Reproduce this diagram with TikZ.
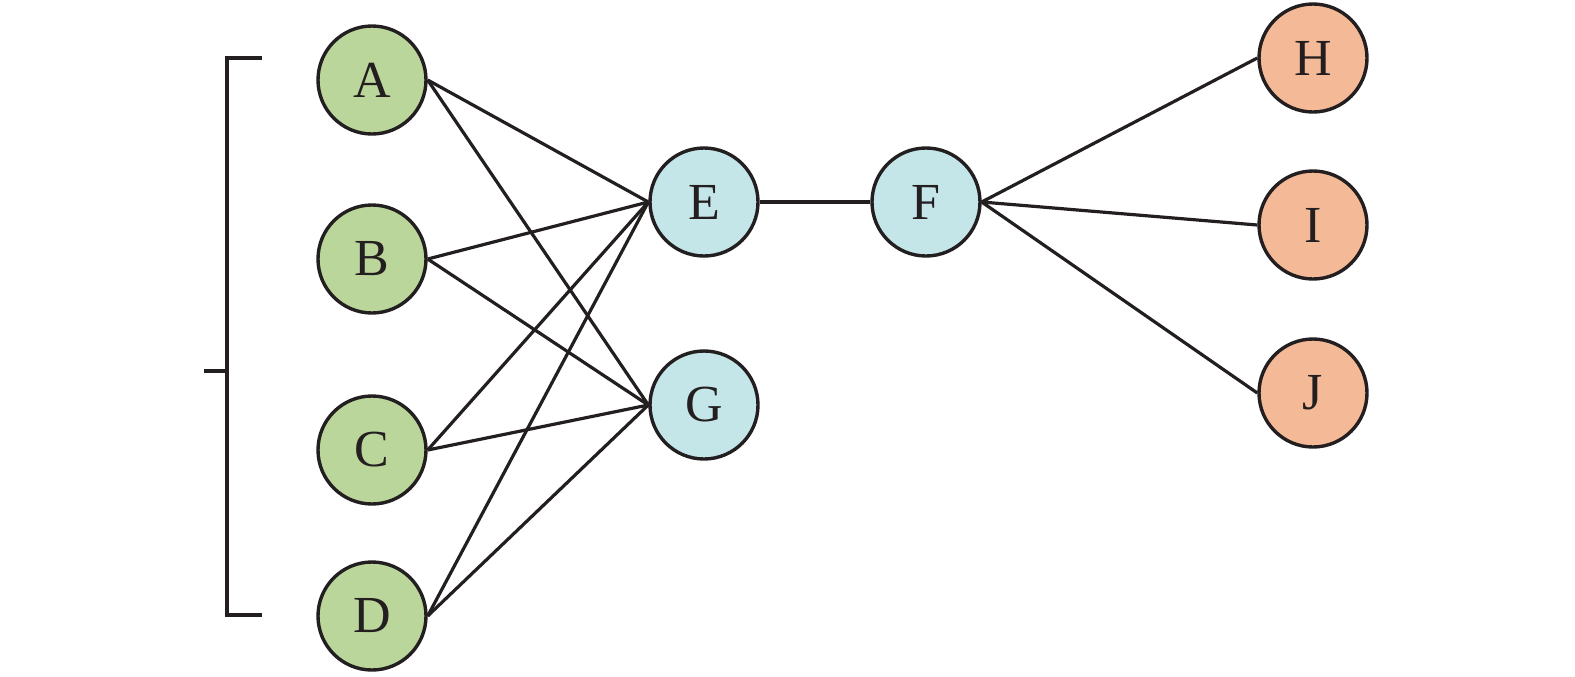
\documentclass[tikz,border=0pt]{standalone}
\usepackage{fontspec}
\setmainfont{Liberation Serif}
\definecolor{lncol}{HTML}{231F20}
\definecolor{grn}{HTML}{BBD69B}
\definecolor{cyn}{HTML}{C5E6E9}
\definecolor{org}{HTML}{F4B996}
\begin{document}
\begin{tikzpicture}[x=0.5pt,y=-0.5pt,
  nd/.style={circle,draw=lncol,line width=1.7pt,minimum size=54pt,inner sep=0pt,font=\fontsize{26}{26}\selectfont,text=lncol},
  g/.style={nd,fill=grn}, c/.style={nd,fill=cyn}, o/.style={nd,fill=org},
  ln/.style={draw=lncol,line width=1.6pt}]
\useasboundingbox (0,0) rectangle (1575,676);
\node[g] (A) at (372,80) {A};
\node[g] (B) at (372,259) {B};
\node[g] (C) at (372,450) {C};
\node[g] (D) at (372,616) {D};
\node[c] (E) at (704,202) {E};
\node[c] (F) at (926,202) {F};
\node[c] (G) at (704,405) {G};
\node[o] (H) at (1313,58) {H};
\node[o] (I) at (1313,225) {I};
\node[o] (J) at (1313,393) {J};
\foreach \s in {A,B,C,D}{
  \draw[ln] (\s.east) -- (E.west);
  \draw[ln] (\s.east) -- (G.west);
}
\draw[ln] (E.east) -- (F.west);
\foreach \t in {H,I,J}{\draw[ln] (F.east) -- (\t.west);}
\coordinate (bt) at (262,58);
\coordinate (bb) at (262,615);
\coordinate (bm) at (204,371);
\draw[ln] (bt) -- (227,58) -- (227,615) -- (bb);
\draw[ln] (bm) -- (227,371);
\end{tikzpicture}
\end{document}
